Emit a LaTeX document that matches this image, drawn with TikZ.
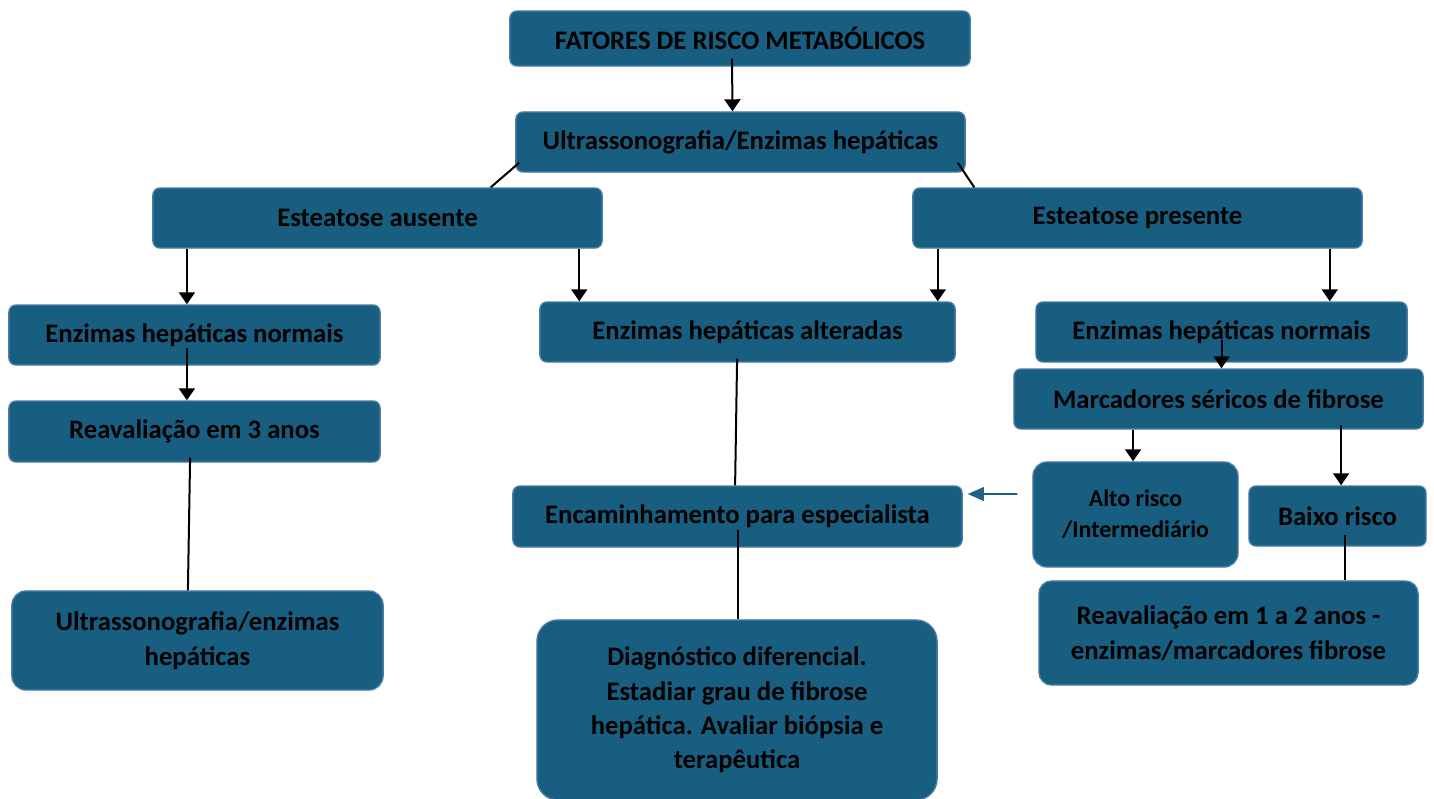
\documentclass[tikz,border=0pt]{standalone}
\usepackage{fontspec}
\setmainfont{Carlito}
\usetikzlibrary{arrows.meta,positioning}
\definecolor{boxblue}{HTML}{185E80}
\definecolor{edgeblue}{HTML}{4A7AA6}
\definecolor{linkblue}{HTML}{1F6287}
\tikzset{
  flowbox/.style={
    rectangle, rounded corners=#1, draw=edgeblue, fill=boxblue,
    line width=1pt, text=black,
    font=\fontsize{19}{24.5}\selectfont\bfseries, align=center,
    inner sep=2pt
  },
  flowbox/.default=5pt,
  flowarrow/.style={
    -{Triangle[length=0.3cm, width=0.4cm]}, line width=0.05cm, color=black
  },
  flowline/.style={line width=0.05cm, color=black},
  backarrow/.style={
    -{Triangle[length=0.4cm, width=0.34cm]}, line width=0.04cm, color=linkblue
  },
}

\begin{document}
\begin{tikzpicture}[x=0.025cm, y=-0.025cm]
    \useasboundingbox (0,0) rectangle (1434,798);

    % Top of the tree
    \node[flowbox, minimum width=11.5cm, minimum height=1.375cm] (fatores) at (740,38.5) {FATORES DE RISCO METABÓLICOS};
    \node[flowbox, minimum width=11.225cm, minimum height=1.5cm] (ultra) at (740.5,142) {Ultrassonografia/Enzimas hepáticas};

    % Two branches
    \node[flowbox, minimum width=11.225cm, minimum height=1.5cm] (ausente) at (377.5,218) {Esteatose ausente};
    \node[flowbox, minimum width=11.225cm, minimum height=1.5cm] (presente) at (1137.5,218) {Esteatose presente};

    % Left column
    \node[flowbox, minimum width=9.275cm, minimum height=1.5cm] (normaisL) at (194.5,335) {Enzimas hepáticas normais};
    \node[flowbox, minimum width=9.275cm, minimum height=1.525cm] (reav3) at (194.5,431.5) {Reavaliação em 3 anos};
    \node[flowbox=10pt, minimum width=9.275cm, minimum height=2.475cm] (ultraL) at (197.5,640.5) {Ultrassonografia/enzimas\\hepáticas};

    % Middle column
    \node[flowbox, minimum width=10.375cm, minimum height=1.5cm] (alteradas) at (747.5,332) {Enzimas hepáticas alteradas};
    \node[flowbox, minimum width=11.225cm, minimum height=1.525cm] (encam) at (737.5,516.5) {Encaminhamento para especialista};
    \node[flowbox=15pt, minimum width=10cm, minimum height=4.5cm] (diag) at (737,710) {Diagnóstico diferencial.\\Estadiar grau de fibrose\\hepática. Avaliar biópsia e\\terapêutica};

    % Right column
    \node[flowbox, minimum width=9.275cm, minimum height=1.5cm] (normaisR) at (1221.5,332) {Enzimas hepáticas normais};
    \node[flowbox, minimum width=10.225cm, minimum height=1.5cm] (marcadores) at (1218.5,399) {Marcadores séricos de fibrose};
    \node[flowbox=10pt, minimum width=5.125cm, minimum height=2.625cm, font=\fontsize{17}{22}\selectfont\bfseries] (alto) at (1135.5,514.5) {Alto risco\\/Intermediário};
    \node[flowbox, minimum width=4.425cm, minimum height=1.5cm] (baixo) at (1337.5,516) {Baixo risco};
    \node[flowbox=9pt, minimum width=9.475cm, minimum height=2.6cm] (reav12) at (1228.5,633) {Reavaliação em 1 a 2 anos -\\enzimas/marcadores fibrose};

    % Connectors
    \draw[flowarrow] ([xshift=-0.2cm, yshift=0.2cm]fatores.south) -- ([xshift=-0.2cm]ultra.north);
    \draw[flowline] ([shift={(0.1cm,0.25cm)}]ultra.south west) -- ([xshift=-2.8cm]ausente.north east);
    \draw[flowline] ([shift={(-0.2cm,0.25cm)}]ultra.south east) -- ([xshift=1.55cm]presente.north west);

    \draw[flowarrow] ([xshift=-0.19cm]normaisL.north |- ausente.south) -- ([xshift=-0.19cm]normaisL.north);
    \draw[flowarrow] ([xshift=1cm]alteradas.north west |- ausente.south) -- ([xshift=1cm]alteradas.north west);
    \draw[flowarrow] ([xshift=-0.45cm]alteradas.north east |- presente.south) -- ([xshift=-0.45cm]alteradas.north east);
    \draw[flowarrow] ([xshift=-1.95cm]normaisR.north east |- presente.south) -- ([xshift=-1.95cm]normaisR.north east);

    \draw[flowarrow] ([shift={(-0.19cm,-0.33cm)}]normaisL.center) -- ([xshift=-0.19cm]reav3.north);
    \draw[flowline] ([shift={(-0.11cm,0.125cm)}]reav3.south) -- ([xshift=-0.24cm]ultraL.north);

    \draw[flowline] ([shift={(-0.26cm,0.1cm)}]alteradas.south) -- ([xshift=-0.06cm]encam.north);
    \draw[flowline] ([yshift=-0.34cm]encam.center) -- (encam.center |- diag.north);

    \draw[flowarrow] ([yshift=-0.2cm]normaisR.center) -- (normaisR.center |- marcadores.north);
    \draw[flowarrow] ([xshift=-0.06cm]alto.north |- marcadores.south) -- ([xshift=-0.06cm]alto.north);
    \draw[flowarrow] ([shift={(0.09cm,0.12cm)}]baixo.north |- marcadores.south) -- ([xshift=0.09cm]baixo.north);
    \draw[flowline] ([shift={(0.19cm,-0.475cm)}]baixo.center) -- ([xshift=0.19cm]baixo.center |- reav12.north);

    \draw[backarrow] ([shift={(-0.375cm,0.5125cm)}]alto.west) -- ([shift={(0.125cm,0.5625cm)}]encam.east);
\end{tikzpicture}
\end{document}
